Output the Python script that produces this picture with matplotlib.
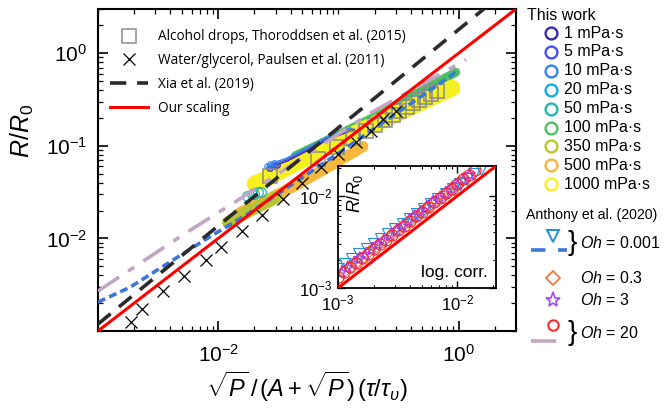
import numpy as np
import matplotlib
matplotlib.use('Agg')
from matplotlib import pyplot as plt
from matplotlib.ticker import LogLocator, NullFormatter

plt.rcParams['font.family'] = ['Liberation Sans', 'DejaVu Sans']
plt.rcParams['mathtext.fontset'] = 'custom'
plt.rcParams['mathtext.rm'] = 'Liberation Sans'
plt.rcParams['mathtext.it'] = 'Liberation Sans:italic'
plt.rcParams['mathtext.bf'] = 'Liberation Sans:bold'

# ---- данные основного графика ----
# Thoroddsen et al. (2015), alcohol drops
thor_x = [0.0271, 0.068, 0.098, 0.133, 0.168, 0.203, 0.242, 0.282, 0.322, 0.369, 0.414, 0.464, 0.521, 0.585, 0.656]
thor_y = [0.0475, 0.0724, 0.0975, 0.122, 0.145, 0.168, 0.191, 0.215, 0.238, 0.262, 0.290, 0.312, 0.337, 0.362, 0.390]

# Paulsen et al. (2011), water/glycerol
paul_x = [0.00188, 0.00233, 0.00348, 0.00521, 0.00794, 0.0106, 0.0158, 0.0233, 0.0348, 0.0501, 0.0721, 0.100, 0.141, 0.185, 0.237, 0.299]
paul_y = [0.00125, 0.00173, 0.00269, 0.00390, 0.00579, 0.0080, 0.0119, 0.0181, 0.0269, 0.0400, 0.0594, 0.0820, 0.110, 0.145, 0.195, 0.238]

# Anthony et al. (2020), simulation curves
anth_lo_x = [0.001, 0.00185, 0.0081, 0.0185, 0.1, 0.857, 1.0]
anth_lo_y = [0.00205, 0.00297, 0.0100, 0.0191, 0.0832, 0.566, 0.676]
anth_hi_x = [0.001, 0.00531, 0.0144, 0.185, 1.15]
anth_hi_y = [0.00270, 0.01132, 0.0256, 0.226, 0.85]

# Xia et al. (2019): R/R0 = c * x^n ; наш скейлинг: R/R0 = x
xia_c, xia_n = 1.8, 1.06
scal_x = np.array([1e-3, 3.0])

# This work (вязкости, mPa·s)
visc_labels = ['1 mPa·s', '5 mPa·s', '10 mPa·s', '20 mPa·s', '50 mPa·s',
               '100 mPa·s', '350 mPa·s', '500 mPa·s', '1000 mPa·s']
visc_colors = ['#3d26a8', '#4a50e8', '#2e87f0', '#1aa9df', '#1fb8b0',
               '#4cc060', '#b8c530', '#f6b83a', '#f6f01e']

v1_x = [0.0270, 0.0290, 0.0310, 0.0380, 0.0550, 0.082, 0.135]
v1_y = [0.0570, 0.0600, 0.0625, 0.0690, 0.0885, 0.117, 0.150]
v5_x = [0.0262, 0.0280, 0.0300, 0.0370, 0.0540, 0.080, 0.130]
v5_y = [0.0580, 0.0615, 0.0640, 0.0705, 0.0905, 0.119, 0.152]
v10_x = [0.0255, 0.0270, 0.0290, 0.0362, 0.0531, 0.078, 0.126]
v10_y = [0.0600, 0.0640, 0.0660, 0.0724, 0.0929, 0.122, 0.156]
v20_x = [0.0190, 0.0215]
v20_y = [0.0300, 0.0315]
v50_x = [0.0174, 0.0200, 0.0228]
v50_y = [0.0290, 0.0305, 0.0320]
v100_x = [0.0439, 0.0858, 0.185, 0.398, 0.944]
v100_y = [0.078, 0.119, 0.195, 0.337, 0.620]
v350_x = [0.0121, 0.0185, 0.0300]
v350_y = [0.0149, 0.0200, 0.0275]
v500_x = [0.0152, 0.0247, 0.0439, 0.0858, 0.160]
v500_y = [0.0190, 0.0256, 0.0372, 0.0610, 0.098]
v1000_x = [0.0203, 0.0233, 0.0398, 0.0708, 0.126, 0.247, 0.482, 0.880]
v1000_y = [0.0390, 0.0421, 0.0610, 0.0883, 0.128, 0.195, 0.290, 0.420]

# ---- данные вставки (log. corr.) ----
in_oh001_x = [0.00100, 0.00115, 0.00132, 0.00151, 0.00174, 0.00200, 0.00229, 0.00263, 0.00302, 0.00347, 0.00398,
              0.00457, 0.00525, 0.00603, 0.00692, 0.00794, 0.00912, 0.01047, 0.01202, 0.01380, 0.01585]
in_oh001_y = [0.00160, 0.00182, 0.00206, 0.00233, 0.00264, 0.00300, 0.00339, 0.00385, 0.00436, 0.00495, 0.00560,
              0.00635, 0.00720, 0.00816, 0.00925, 0.01048, 0.01189, 0.01347, 0.01527, 0.01730, 0.01960]
in_oh03_x = [0.00110, 0.00125, 0.00142, 0.00161, 0.00183, 0.00208, 0.00236, 0.00268, 0.00305, 0.00346,
             0.00393, 0.00447, 0.00508, 0.00577, 0.00655, 0.00744, 0.00846, 0.00961, 0.01092]
in_oh03_y = [0.00150, 0.00170, 0.00193, 0.00219, 0.00249, 0.00283, 0.00321, 0.00364, 0.00415, 0.00471,
             0.00534, 0.00608, 0.00691, 0.00785, 0.00891, 0.01012, 0.01151, 0.01307, 0.01485]
in_oh3_x = [0.00105, 0.00118, 0.00133, 0.00150, 0.00168, 0.00189, 0.00213, 0.00240, 0.00270, 0.00304, 0.00342,
            0.00385, 0.00433, 0.00487, 0.00548, 0.00617, 0.00694, 0.00781, 0.00879, 0.00989, 0.01113, 0.01252]
in_oh3_y = [0.00149, 0.00167, 0.00188, 0.00211, 0.00236, 0.00265, 0.00298, 0.00335, 0.00376, 0.00423, 0.00475,
            0.00534, 0.00600, 0.00674, 0.00757, 0.00851, 0.00956, 0.01074, 0.01207, 0.01356, 0.01524, 0.01713]
in_oh20_x = [0.00100, 0.00112, 0.00126, 0.00141, 0.00158, 0.00178, 0.00200, 0.00224, 0.00251, 0.00282, 0.00316, 0.00355,
             0.00398, 0.00447, 0.00501, 0.00562, 0.00631, 0.00708, 0.00794, 0.00891, 0.0100, 0.0112, 0.0126, 0.0141]
in_oh20_y = [0.00132, 0.00148, 0.00167, 0.00187, 0.00210, 0.00236, 0.00266, 0.00298, 0.00335, 0.00376, 0.00422, 0.00474,
             0.00532, 0.00598, 0.00671, 0.00753, 0.00846, 0.00950, 0.01066, 0.01197, 0.01345, 0.0151, 0.0169, 0.0190]

main_xticks = [1e-2, 1e0]
main_xticklabels = [r'$\mathregular{10^{-2}}$', r'$\mathregular{10^{0}}$']
main_yticks = [1e-2, 1e-1, 1e0]
main_yticklabels = [r'$\mathregular{10^{-2}}$', r'$\mathregular{10^{-1}}$', r'$\mathregular{10^{0}}$']
in_ticks = [1e-3, 1e-2]
in_ticklabels = [r'$\mathregular{10^{-3}}$', r'$\mathregular{10^{-2}}$']

RED = '#ff0000'
BLUE_D = '#3a78d8'
PINK = '#c4a6c4'

fig = plt.figure(figsize=(6.64, 4.2), dpi=100)
ax = fig.add_axes([98 / 664, 89 / 420, 418 / 664, 322 / 420])
ax.set_xscale('log')
ax.set_yscale('log')

# полосы "This work" (толстые линии из перекрывающихся кружков)
band = dict(solid_capstyle='round', solid_joinstyle='round')
ax.plot(v100_x, v100_y, color=visc_colors[5], lw=6.5, zorder=2.0, **band)
ax.plot(v500_x, v500_y, color=visc_colors[7], lw=8, zorder=2.1, **band)
ax.plot(v350_x, v350_y, color=visc_colors[6], lw=9, zorder=2.2, **band)
ax.plot(v1000_x, v1000_y, color=visc_colors[8], lw=12, zorder=2.3, **band)
for vx, vy, c in [(v1_x, v1_y, visc_colors[0]), (v5_x, v5_y, visc_colors[1]), (v10_x, v10_y, visc_colors[2])]:
    ax.plot(vx, vy, color=c, lw=1.1, marker='o', ms=4, mfc='none', mew=0.8,
            markevery=[0, 1, 2], zorder=2.4)
ax.plot(v20_x, v20_y, ls='none', marker='o', ms=7, mfc='none', mec=visc_colors[3], mew=0.9, zorder=2.5)
ax.plot(v50_x, v50_y, ls='none', marker='o', ms=7, mfc='none', mec=visc_colors[4], mew=0.9, zorder=2.5)

sq, = ax.plot(thor_x, thor_y, ls='none', marker='s', ms=10, mfc='none', mec='#8a8a8a', mew=1.1, zorder=3)
ax.plot(anth_hi_x, anth_hi_y, color=PINK, lw=2.6, dashes=(7, 3, 2, 3), zorder=3.5)
ax.plot(anth_lo_x, anth_lo_y, color=BLUE_D, lw=2.6, dashes=(2.2, 1.2), zorder=3.6)
xia, = ax.plot(scal_x, xia_c * scal_x ** xia_n, color='#2b2b2b', lw=2.6, dashes=(4.5, 3), zorder=3.7)
cr, = ax.plot(paul_x, paul_y, ls='none', marker='x', ms=9, mec='k', mew=0.9, zorder=3.8)
red, = ax.plot(scal_x, scal_x, color=RED, lw=2.2, zorder=4)

ax.set_xlim(1e-3, 3)
ax.set_ylim(1e-3, 3)
ax.set_xticks(main_xticks)
ax.set_xticklabels(main_xticklabels)
ax.set_yticks(main_yticks)
ax.set_yticklabels(main_yticklabels)
for a in (ax.xaxis, ax.yaxis):
    a.set_minor_locator(LogLocator(base=10, subs=np.arange(1, 10), numticks=30))
    a.set_minor_formatter(NullFormatter())
ax.tick_params(which='both', direction='in', top=True, right=True)
ax.tick_params(which='major', length=7, width=1.2, labelsize=15)
ax.tick_params(which='minor', length=3.5, width=0.9)
ax.tick_params(axis='x', which='major', pad=9)
ax.tick_params(axis='y', which='major', pad=8)
for s in ax.spines.values():
    s.set_linewidth(1.5)

ax.set_xlabel(r'$\sqrt{P}\,/\,(A+\sqrt{P})\,(\tau/\tau_\upsilon)$', fontsize=17, labelpad=3)
ax.set_ylabel(r'$R/R_0$', fontsize=18)
ax.yaxis.set_label_coords(-0.148, 0.62)

leg = ax.legend([sq, cr, xia, red],
                ['Alcohol drops, Thoroddsen et al. (2015)', 'Water/glycerol, Paulsen et al. (2011)',
                 'Xia et al. (2019)', 'Our scaling'],
                loc='upper left', bbox_to_anchor=(0.0, 0.975), frameon=False, numpoints=1,
                prop={'family': 'Open Sans', 'size': 9.8},
                handlelength=2.8, labelspacing=0.65, handletextpad=0.7,
                borderaxespad=0.5)
leg.set_zorder(10)

# ---- вставка ----
axi = fig.add_axes([338 / 664, 132 / 420, 158 / 664, 122 / 420], zorder=5)
axi.set_xscale('log')
axi.set_yscale('log')
mk = dict(ls='none', mfc='none', ms=8, mew=0.8)
axi.plot(in_oh001_x, in_oh001_y, marker='v', mec='#2090d8', **mk)
axi.plot(in_oh03_x, in_oh03_y, marker='D', mec='#f07a3a', **dict(mk, ms=6))
axi.plot(in_oh3_x, in_oh3_y, marker='*', mec='#a848f0', **dict(mk, ms=9.5))
axi.plot(in_oh20_x, in_oh20_y, marker='o', mec='#ff2020', **mk)
axi.plot(scal_x, scal_x, color=RED, lw=2.2, zorder=4)
axi.set_xlim(1e-3, 0.021)
axi.set_ylim(1e-3, 0.021)
axi.set_xticks(in_ticks)
axi.set_xticklabels(in_ticklabels)
axi.set_yticks(in_ticks)
axi.set_yticklabels(in_ticklabels)
for a in (axi.xaxis, axi.yaxis):
    a.set_minor_locator(LogLocator(base=10, subs=np.arange(1, 10), numticks=30))
    a.set_minor_formatter(NullFormatter())
axi.tick_params(which='both', direction='in', top=True, right=True)
axi.tick_params(which='major', length=5, width=1.0, labelsize=12, pad=4)
axi.tick_params(which='minor', length=2.5, width=0.8)
for s in axi.spines.values():
    s.set_linewidth(1.3)
axi.text(0.11, 0.78, r'$R/R_0$', transform=axi.transAxes, rotation=90, fontsize=13,
         ha='center', va='center')
axi.text(0.95, 0.13, 'log. corr.', transform=axi.transAxes, fontsize=12.5, ha='right', va='center')

# ---- правая легенда (в пикселях) ----
lax = fig.add_axes([0, 0, 1, 1], zorder=6)
lax.set_xlim(0, 664)
lax.set_ylim(420, 0)
lax.axis('off')
lax.text(527, 15, 'This work', fontsize=11.5, va='center', ha='left')
for i, (lab, c) in enumerate(zip(visc_labels, visc_colors)):
    yy = 33 + i * 18.9
    lax.plot([551], [yy], marker='o', ms=8.5, mfc='none', mec=c, mew=1.7)
    lax.text(564, yy, lab, fontsize=11.5, va='center', ha='left')

lax.text(526, 215, 'Anthony et al. (2020)', fontsize=10.2, va='center', ha='left')
lax.plot([553], [236], marker='v', ms=8.5, mfc='none', mec='#2090d8', mew=1.4)
lax.plot([531, 567], [250, 250], color=BLUE_D, lw=2.6, dashes=(4, 3.5))
lax.text(568, 243, '}', fontsize=20, va='center', ha='left', fontweight='light')
lax.text(580, 243, r'$Oh$ = 0.001', fontsize=11.5, va='center', ha='left')
lax.plot([553], [278], marker='D', ms=7, mfc='none', mec='#f07a3a', mew=1.3)
lax.text(580, 278, r'$Oh$ = 0.3', fontsize=11.5, va='center', ha='left')
lax.plot([553], [300], marker='*', ms=11, mfc='none', mec='#a848f0', mew=1.2)
lax.text(580, 300, r'$Oh$ = 3', fontsize=11.5, va='center', ha='left')
lax.plot([553], [325], marker='o', ms=7.5, mfc='none', mec='#ff2020', mew=1.4)
lax.plot([531, 567], [341, 341], color=PINK, lw=2.6, dashes=(7, 3, 2, 3))
lax.text(568, 333, '}', fontsize=20, va='center', ha='left', fontweight='light')
lax.text(580, 333, r'$Oh$ = 20', fontsize=11.5, va='center', ha='left')

fig.savefig('out.png', dpi=100)
